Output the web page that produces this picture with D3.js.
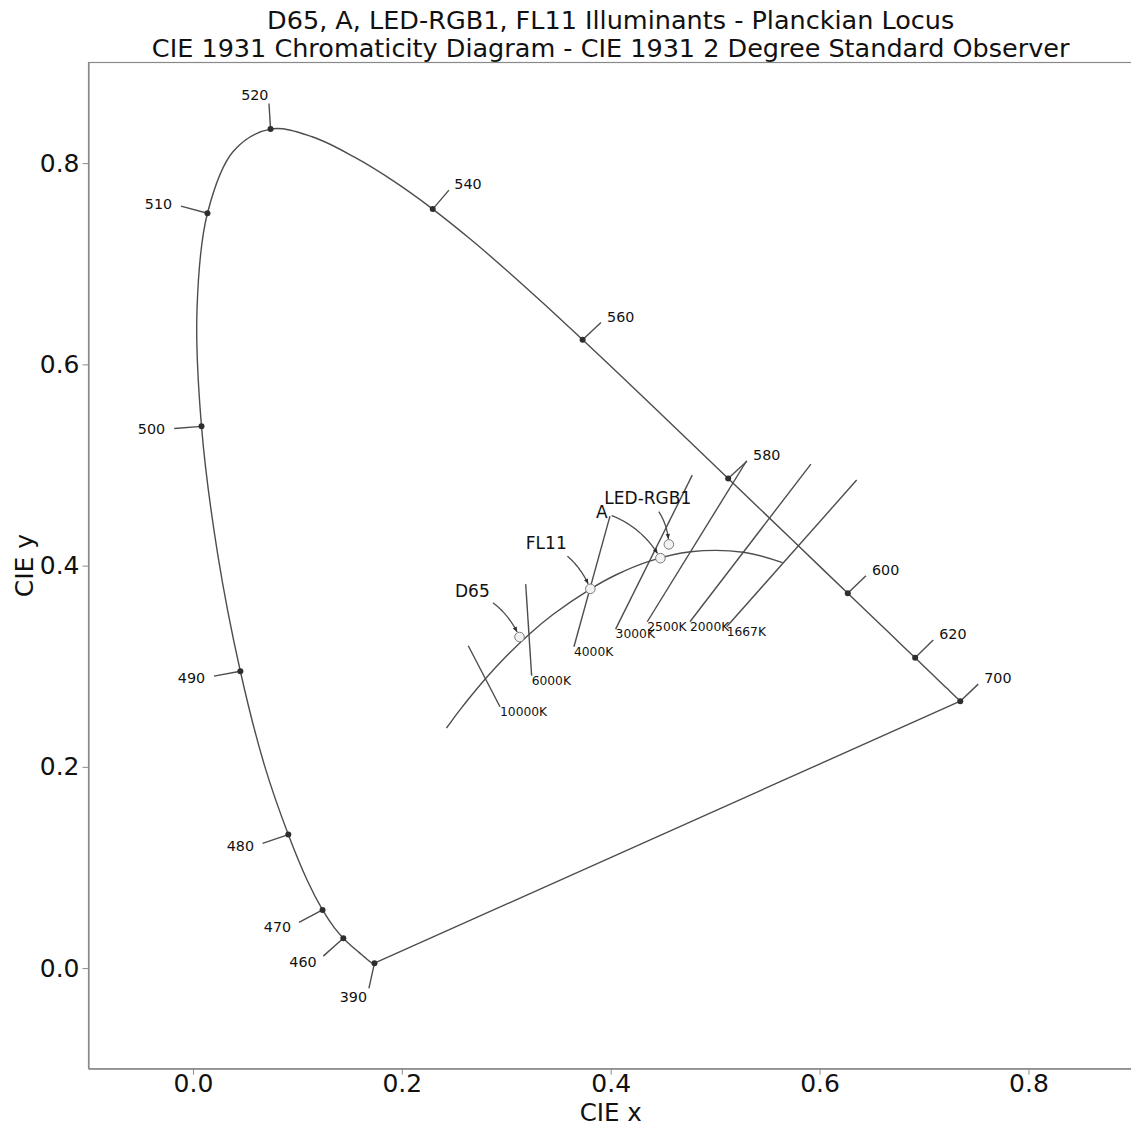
<!DOCTYPE html>
<html>
<head>
<meta charset="utf-8">
<script src="https://cdn.jsdelivr.net/npm/d3@7"></script>
<style>
  body { margin: 0; background: #fff; }
  svg { font-family: "DejaVu Sans", sans-serif; }
</style>
</head>
<body>
<svg width="1131" height="1127"></svg>
<script>
// CIE 1931 2 degree spectral locus (chromaticity), 5 nm steps
var wavelengths = [390, 395, 400, 405, 410, 415, 420, 425, 430, 435, 440, 445, 450, 455, 460, 465,
  470, 475, 480, 485, 490, 495, 500, 505, 510, 515, 520, 525, 530, 535, 540, 545, 550, 555, 560,
  565, 570, 575, 580, 585, 590, 595, 600, 605, 610, 615, 620, 625, 630, 635, 640, 645, 650, 655,
  660, 665, 670, 675, 680, 685, 690, 695, 700];
var locusX = [0.1738, 0.1736, 0.1733, 0.1730, 0.1726, 0.1721, 0.1714, 0.1703, 0.1689, 0.1669,
  0.1644, 0.1611, 0.1566, 0.1510, 0.1440, 0.1355, 0.1241, 0.1096, 0.0913, 0.0687, 0.0454, 0.0235,
  0.0082, 0.0039, 0.0139, 0.0389, 0.0743, 0.1142, 0.1547, 0.1929, 0.2296, 0.2658, 0.3016, 0.3373,
  0.3731, 0.4087, 0.4441, 0.4788, 0.5125, 0.5448, 0.5752, 0.6029, 0.6270, 0.6482, 0.6658, 0.6801,
  0.6915, 0.7006, 0.7079, 0.7140, 0.7190, 0.7230, 0.7260, 0.7283, 0.7300, 0.7311, 0.7320, 0.7327,
  0.7334, 0.7340, 0.7344, 0.7346, 0.7347];
var locusY = [0.0049, 0.0049, 0.0048, 0.0048, 0.0048, 0.0048, 0.0051, 0.0058, 0.0069, 0.0086,
  0.0109, 0.0138, 0.0177, 0.0227, 0.0297, 0.0399, 0.0578, 0.0868, 0.1327, 0.2007, 0.2950, 0.4127,
  0.5384, 0.6548, 0.7502, 0.8120, 0.8338, 0.8262, 0.8059, 0.7816, 0.7543, 0.7243, 0.6923, 0.6589,
  0.6245, 0.5896, 0.5547, 0.5202, 0.4866, 0.4544, 0.4242, 0.3965, 0.3725, 0.3514, 0.3340, 0.3197,
  0.3083, 0.2993, 0.2920, 0.2859, 0.2809, 0.2770, 0.2740, 0.2717, 0.2700, 0.2689, 0.2680, 0.2673,
  0.2666, 0.2660, 0.2656, 0.2654, 0.2653];

// labelled wavelengths and where their leader lines end
var labelWavelengths = [390, 460, 470, 480, 490, 500, 510, 520, 540, 560, 580, 600, 620, 700];
var leaderX = [0.1685, 0.1248, 0.1015, 0.0667, 0.0201, -0.0179, -0.0115, 0.0728, 0.2451, 0.3907,
  0.5304, 0.6444, 0.7088, 0.7519];
var leaderY = [-0.0202, 0.0119, 0.0454, 0.1239, 0.2902, 0.5363, 0.7573, 0.8593, 0.7732, 0.6417,
  0.5038, 0.3899, 0.3260, 0.2822];

// Planckian locus
var planckCCT = [1667, 2000, 2500, 3000, 3500, 4000, 5000, 6000, 8000, 10000, 15000, 20000, 30000, 50000, 100000];
var planckX = [0.5646, 0.5269, 0.4765, 0.4366, 0.4053, 0.3805, 0.3450, 0.3220, 0.2952, 0.2807,
  0.2637, 0.2564, 0.2500, 0.2457, 0.2428];
var planckY = [0.4029, 0.4133, 0.4137, 0.4042, 0.3909, 0.3767, 0.3516, 0.3318, 0.3048, 0.2883,
  0.2672, 0.2576, 0.2489, 0.2427, 0.2386];

// iso-temperature lines: upper end (x0, y0) and lower end (x1, y1)
var isoCCT = [1667, 2000, 2500, 3000, 4000, 6000, 10000];
var isoX0 = [0.6355, 0.5917, 0.5302, 0.4781, 0.3993, 0.3186, 0.2636];
var isoY0 = [0.4850, 0.5009, 0.5042, 0.4899, 0.4492, 0.3816, 0.3203];
var isoX1 = [0.5110, 0.4759, 0.4350, 0.4047, 0.3648, 0.3243, 0.2940];
var isoY1 = [0.3392, 0.3442, 0.3442, 0.3369, 0.3193, 0.2905, 0.2597];

// illuminants
var illuminants = ["D65", "A", "LED-RGB1", "FL11"];
var illumX = [0.3127, 0.4476, 0.4557, 0.3805];
var illumY = [0.3290, 0.4074, 0.4211, 0.3769];

var xTicks = [0.0, 0.2, 0.4, 0.6, 0.8];
var yTicks = [0.0, 0.2, 0.4, 0.6, 0.8];

var svg = d3.select("svg"),
    margin = {top: 62.5, left: 88.5},
    width = 1044.4,
    height = 1006.2;

var x = d3.scaleLinear().domain([-0.1, 0.9]).range([margin.left, margin.left + width]),
    y = d3.scaleLinear().domain([-0.1, 0.9]).range([margin.top + height, margin.top]);

var lineColor = "#4d4d4d";

// title
svg.append("text")
    .attr("x", x(0.4)).attr("y", 29)
    .attr("text-anchor", "middle")
    .attr("font-size", "25.5px")
    .attr("fill", "#111")
    .text("D65, A, LED-RGB1, FL11 Illuminants - Planckian Locus");
svg.append("text")
    .attr("x", x(0.4)).attr("y", 57)
    .attr("text-anchor", "middle")
    .attr("font-size", "25.5px")
    .attr("fill", "#111")
    .text("CIE 1931 Chromaticity Diagram - CIE 1931 2 Degree Standard Observer");

// frame
svg.append("rect")
    .attr("x", margin.left).attr("y", margin.top)
    .attr("width", width).attr("height", height)
    .attr("fill", "none")
    .attr("stroke", "#8a8a8a")
    .attr("stroke-width", 1.2);

// axes
var gx = svg.append("g")
    .attr("transform", "translate(0," + (margin.top + height) + ")")
    .call(d3.axisBottom(x).tickValues(xTicks).tickFormat(d3.format(".1f")).tickSize(6).tickSizeOuter(0).tickPadding(0));
var gy = svg.append("g")
    .attr("transform", "translate(" + margin.left + ",0)")
    .call(d3.axisLeft(y).tickValues(yTicks).tickFormat(d3.format(".1f")).tickSize(6).tickSizeOuter(0).tickPadding(3));

[gx, gy].forEach(function(g) {
  g.attr("font-family", "DejaVu Sans, sans-serif").attr("font-size", "25px");
  g.select(".domain").attr("stroke", "#8a8a8a").attr("stroke-width", 1.2);
  g.selectAll(".tick line").attr("stroke", "#8a8a8a");
  g.selectAll(".tick text").attr("fill", "#111");
});

svg.append("text")
    .attr("x", x(0.4)).attr("y", 1121.2)
    .attr("text-anchor", "middle")
    .attr("font-size", "24.5px")
    .attr("fill", "#111")
    .text("CIE x");
svg.append("text")
    .attr("transform", "translate(33," + y(0.4) + ") rotate(-90)")
    .attr("text-anchor", "middle")
    .attr("font-size", "25px")
    .attr("fill", "#111")
    .text("CIE y");

var plot = svg.append("g");

// spectral locus
var locus = wavelengths.map(function(w, i) { return [locusX[i], locusY[i]]; });
var lineGen = d3.line()
    .x(function(d) { return x(d[0]); })
    .y(function(d) { return y(d[1]); })
    .curve(d3.curveCatmullRom.alpha(0.5));

plot.append("path")
    .attr("d", lineGen(locus))
    .attr("fill", "none")
    .attr("stroke", lineColor)
    .attr("stroke-width", 1.4);
// purple line
plot.append("path")
    .attr("d", d3.line().x(function(d) { return x(d[0]); }).y(function(d) { return y(d[1]); })([locus[locus.length - 1], locus[0]]))
    .attr("fill", "none")
    .attr("stroke", lineColor)
    .attr("stroke-width", 1.4);

// wavelength labels
labelWavelengths.forEach(function(w, i) {
  var k = wavelengths.indexOf(w);
  var px = locusX[k], py = locusY[k];
  var tx = px + (leaderX[i] - px) * 4 / 3,
      ty = py + (leaderY[i] - py) * 4 / 3;
  plot.append("line")
      .attr("x1", x(px)).attr("y1", y(py))
      .attr("x2", x(leaderX[i])).attr("y2", y(leaderY[i]))
      .attr("stroke", lineColor)
      .attr("stroke-width", 1.4);
  plot.append("circle")
      .attr("cx", x(px)).attr("cy", y(py))
      .attr("r", 3)
      .attr("fill", "#2e2e2e");
  plot.append("text")
      .attr("x", x(tx)).attr("y", y(ty))
      .attr("dy", "0.35em")
      .attr("text-anchor", leaderX[i] - px >= 0 ? "start" : "end")
      .attr("font-size", "14.3px")
      .attr("fill", "#111")
      .text(w);
});

// Planckian locus
var planck = planckCCT.map(function(t, i) { return [planckX[i], planckY[i]]; });
plot.append("path")
    .attr("d", lineGen(planck))
    .attr("fill", "none")
    .attr("stroke", lineColor)
    .attr("stroke-width", 1.4);

isoCCT.forEach(function(t, i) {
  plot.append("line")
      .attr("x1", x(isoX0[i])).attr("y1", y(isoY0[i]))
      .attr("x2", x(isoX1[i])).attr("y2", y(isoY1[i]))
      .attr("stroke", lineColor)
      .attr("stroke-width", 1.4);
  plot.append("text")
      .attr("x", x(isoX1[i])).attr("y", y(isoY1[i]) + 9)
      .attr("font-size", "12.3px")
      .attr("fill", "#111")
      .text(t + "K");
});

// illuminant points and curved annotation arrows
illuminants.forEach(function(name, i) {
  var cx = x(illumX[i]), cy = y(illumY[i]);
  var label = plot.append("text")
      .attr("x", cx - 64.5).attr("y", cy - 40)
      .attr("font-size", "17px")
      .attr("fill", "#111")
      .text(name);
  var bb = label.node().getBBox();
  var sx = bb.x + bb.width / 2, sy = bb.y + bb.height / 2;
  var dx = cx - sx, dy = cy - sy;
  var qx = (sx + cx) / 2 + 0.2 * dy, qy = (sy + cy) / 2 - 0.2 * dx;
  function bez(t) {
    var a = (1 - t) * (1 - t), b = 2 * (1 - t) * t, c = t * t;
    return [a * sx + b * qx + c * cx, a * sy + b * qy + c * cy];
  }
  var pts = [];
  for (var t = 0; t <= 1.0001; t += 0.01) {
    var p = bez(t);
    var inside = p[0] > bb.x - 3 && p[0] < bb.x + bb.width + 3 && p[1] > bb.y - 3 && p[1] < bb.y + bb.height + 3;
    var near = Math.hypot(p[0] - cx, p[1] - cy) < 5;
    if (!inside && !near) pts.push(p);
  }
  plot.append("path")
      .attr("d", d3.line()(pts))
      .attr("fill", "none")
      .attr("stroke", lineColor)
      .attr("stroke-width", 1.3);
  var e = pts[pts.length - 1], f = pts[pts.length - 4];
  var ang = Math.atan2(e[1] - f[1], e[0] - f[0]) * 180 / Math.PI;
  plot.append("path")
      .attr("d", "M0,0L-5,-2.2L-5,2.2Z")
      .attr("transform", "translate(" + e[0] + "," + e[1] + ") rotate(" + ang + ")")
      .attr("fill", "#2e2e2e");
  plot.append("circle")
      .attr("cx", cx).attr("cy", cy)
      .attr("r", 4.8)
      .attr("fill", "#f2f2f2")
      .attr("stroke", "#7a7a7a")
      .attr("stroke-width", 1);
});
</script>
</body>
</html>
